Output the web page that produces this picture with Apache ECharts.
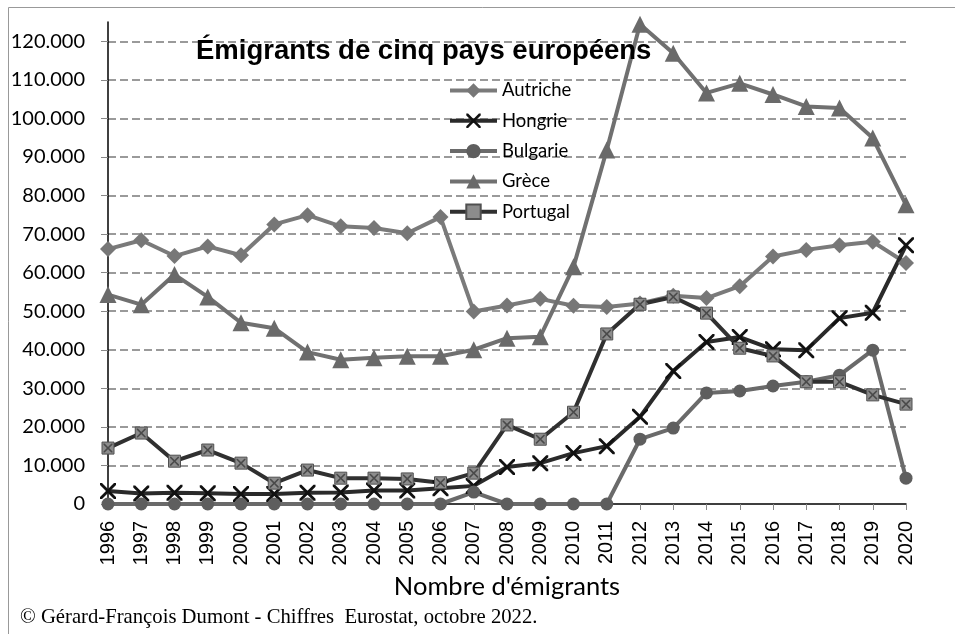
<!DOCTYPE html>
<html>
<head>
<meta charset="utf-8">
<script src="https://cdn.jsdelivr.net/npm/echarts@6/dist/echarts.min.js"></script>
<style>
  html, body { margin: 0; padding: 0; background: #fff; }
  #chart { width: 955px; height: 634px; }
</style>
</head>
<body>
<div id="chart"></div>
<script>
// années
const years = ['1996','1997','1998','1999','2000','2001','2002','2003','2004','2005','2006','2007','2008',
  '2009','2010','2011','2012','2013','2014','2015','2016','2017','2018','2019','2020'];

// émigrants par pays
const autriche = [66100, 68400, 64300, 66800, 64500, 72500, 74900, 72000, 71600, 70200, 74400, 49900, 51500,
  53200, 51400, 51100, 52000, 54000, 53400, 56500, 64200, 65900, 67100, 68000, 62500];
const hongrie = [3400, 2700, 2900, 2800, 2600, 2600, 2900, 3000, 3500, 3500, 4100, 4700, 9600,
  10600, 13200, 15000, 22600, 34500, 42000, 43300, 40100, 39900, 48200, 49600, 67100];
const bulgarie = [0, 0, 0, 0, 0, 0, 0, 0, 0, 0, 0, 3100, 0,
  0, 0, 0, 16800, 19700, 28800, 29300, 30600, 31700, 33400, 39900, 6700];
const grece = [54300, 51700, 59500, 53700, 47000, 45600, 39400, 37400, 37900, 38300, 38300, 40000, 43000,
  43400, 61500, 91800, 124400, 116900, 106600, 109100, 106200, 103100, 102700, 94900, 77600];
const portugal = [14500, 18400, 11100, 14000, 10600, 5400, 8800, 6700, 6700, 6500, 5500, 8000, 20500,
  16800, 23800, 44100, 51800, 53700, 49500, 40400, 38400, 31700, 31700, 28300, 25900];

const yTicks = [0, 10000, 20000, 30000, 40000, 50000, 60000, 70000, 80000, 90000, 100000, 110000, 120000];

const crossPath = 'path://M0,0L2.5,0L10,7.5L17.5,0L20,0L20,2.5L12.5,10L20,17.5L20,20L17.5,20L10,12.5L2.5,20L0,20L0,17.5L7.5,10L0,2.5Z';

function fmt(v) {
  return String(v).replace(/\B(?=(\d{3})+(?!\d))/g, '.');
}

const chart = echarts.init(document.getElementById('chart'), null, { renderer: 'canvas' });

const option = {
  animation: false,
  backgroundColor: '#fff',
  title: {
    text: 'Émigrants de cinq pays européens',
    left: 191,
    top: 32,
    textStyle: { fontFamily: 'Liberation Sans', fontWeight: 'bold', fontSize: 27.5, color: '#000' }
  },
  legend: {
    data: ['Autriche', 'Hongrie', 'Bulgarie', 'Grèce', 'Portugal'],
    orient: 'vertical',
    left: 443,
    top: 76,
    itemWidth: 47,
    itemHeight: 18,
    itemGap: 11.3,
    lineStyle: { width: 4 },
    textStyle: { fontFamily: 'Lato', fontSize: 18.5, color: '#000', lineHeight: 18 }
  },
  grid: { left: 108, right: 49, top: 22, bottom: 130 },
  xAxis: {
    type: 'category',
    data: years,
    boundaryGap: false,
    axisLine: { lineStyle: { color: '#000', width: 1.5 } },
    axisTick: { length: 6, lineStyle: { color: '#888' } },
    axisLabel: { rotate: 90, margin: 17, fontFamily: 'Liberation Sans', fontSize: 20, color: '#000' },
    name: "Nombre d'émigrants",
    nameLocation: 'middle',
    nameGap: 70,
    nameTextStyle: { fontFamily: 'Lato', fontSize: 25.5, color: '#000' }
  },
  yAxis: {
    type: 'value',
    min: 0,
    max: 125000,
    interval: 10000,
    axisLine: { show: true, lineStyle: { color: '#000', width: 1.5 } },
    axisTick: { show: true, length: 7, customValues: yTicks, lineStyle: { color: '#888' } },
    axisLabel: {
      margin: 23, customValues: yTicks,
      fontFamily: 'Lato', fontSize: 20, color: '#000',
      formatter: fmt
    },
    splitLine: {
      show: true, showMinLine: false,
      lineStyle: { color: '#9a9a9a', width: 2, type: [8, 4] }
    }
  },
  series: [
    {
      name: 'Autriche', type: 'line', data: autriche,
      symbol: 'diamond', symbolSize: 16,
      lineStyle: { width: 4, color: '#7a7a7a' },
      itemStyle: { color: '#777' }
    },
    {
      name: 'Hongrie', type: 'line', data: hongrie,
      symbol: crossPath, symbolSize: 16,
      lineStyle: { width: 4, color: '#2a2a2a' },
      itemStyle: { color: '#111' }
    },
    {
      name: 'Bulgarie', type: 'line', data: bulgarie,
      symbol: 'circle', symbolSize: 13,
      lineStyle: { width: 4, color: '#6a6a6a' },
      itemStyle: { color: '#5e5e5e' }
    },
    {
      name: 'Grèce', type: 'line', data: grece, clip: false,
      symbol: 'triangle', symbolSize: 17,
      lineStyle: { width: 4, color: '#707070' },
      itemStyle: { color: '#6a6a6a' }
    },
    {
      name: 'Portugal', type: 'line', data: portugal,
      symbol: 'rect', symbolSize: 12,
      lineStyle: { width: 4, color: '#303030' },
      itemStyle: { color: '#8c8c8c', borderColor: '#505050', borderWidth: 1 }
    },
    {
      name: 'Portugal-x', type: 'line', data: portugal,
      symbol: crossPath, symbolSize: 9, silent: true,
      lineStyle: { opacity: 0 },
      itemStyle: { color: '#4a4a4a' }
    }
  ],
  graphic: [
    {
      type: 'rect', silent: true,
      shape: { x: 8.5, y: 7.5, width: 1000, height: 700 },
      style: { fill: null, stroke: '#999', lineWidth: 1 }
    },
    {
      type: 'text', left: 20, top: 607,
      style: {
        text: '© Gérard-François Dumont - Chiffres  Eurostat, octobre 2022.',
        font: '20.7px "Liberation Serif"', fill: '#000'
      }
    }
  ]
};

chart.setOption(option);
</script>
</body>
</html>
